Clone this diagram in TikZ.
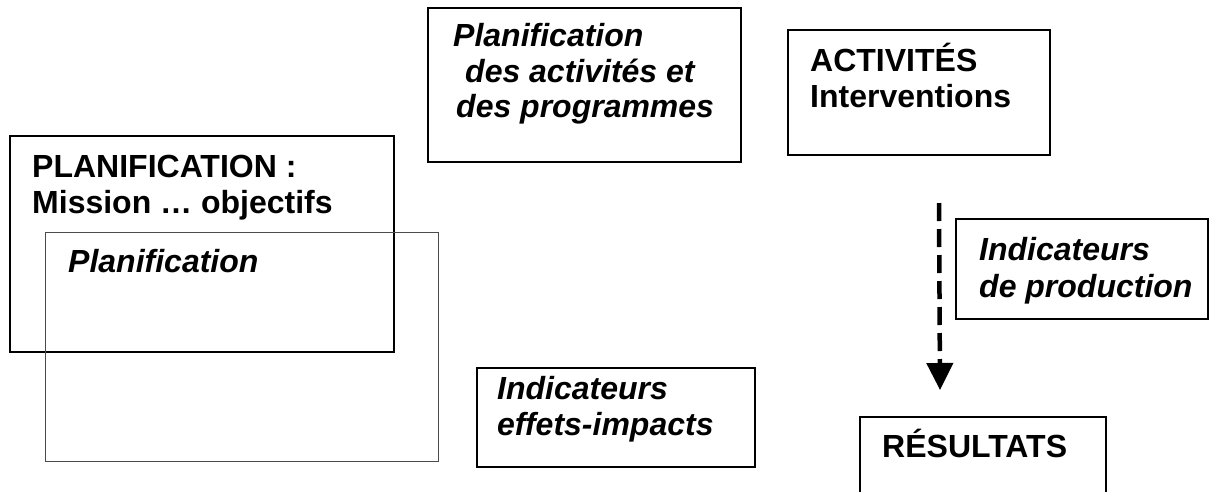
\documentclass[tikz,border=0pt]{standalone}
\usepackage{fontspec}
\setmainfont{Liberation Sans}
\usetikzlibrary{arrows.meta}
\tikzset{
  box/.style={draw, line width=1.8pt, inner sep=0pt, anchor=center},
  thinbox/.style={draw=black!70, line width=1pt, inner sep=0pt, anchor=center},
  txt/.style={anchor=base west, inner sep=0pt, font=\fontsize{32}{36}\selectfont\bfseries},
  itxt/.style={anchor=base west, inner sep=0pt, font=\fontsize{32}{36}\selectfont\bfseries\itshape},
  flow/.style={line width=4.5pt, dash pattern=on 18pt off 8pt, -{Triangle[width=26pt,length=27pt]}}
}
\begin{document}
\begin{tikzpicture}[x=1pt,y=-1pt]
\useasboundingbox (0,0) rectangle (1209,491);
\clip (0,0) rectangle (1209,491);
\fill[white] (0,0) rectangle (1209,491);
% boxes
\node[box, minimum width=384pt, minimum height=216pt] (plan) at (202,244) {};
\node[thinbox, minimum width=393pt, minimum height=229pt] (planif) at (241.5,346.5) {};
\node[box, minimum width=313pt, minimum height=154pt] (prog) at (584.5,85) {};
\node[box, minimum width=262pt, minimum height=125pt] (act) at (919,92.5) {};
\node[box, minimum width=252pt, minimum height=100pt] (prod) at (1082,269) {};
\node[box, minimum width=246pt, minimum height=120pt] (res) at (983,477) {};
\node[box, line width=1.5pt, minimum width=278pt, minimum height=99pt] (eff) at (616,417.5) {};
% texts
\node[txt] (t1a) at (32,177) {PLANIFICATION :};
\node[txt] (t1b) at (32,213) {Mission … objectifs};
\node[itxt] (t2) at (68,272) {Planification};
\node[itxt] (t3a) at (453,46) {Planification};
\node[itxt] (t3b) at (465,82) {des activités et};
\node[itxt] (t3c) at (456,117) {des programmes};
\node[txt] (t4a) at (810,71) {ACTIVITÉS};
\node[txt] (t4b) at (810,107) {Interventions};
\node[itxt] (t5a) at (979,260) {Indicateurs};
\node[itxt] (t5b) at (979,297) {de production};
\node[itxt] (t7a) at (497,399) {Indicateurs};
\node[itxt] (t7b) at (497,435) {effets-impacts};
\node[txt] (t6) at (882,457) {RÉSULTATS};
% arrow
\coordinate (a1) at (939,203);
\coordinate (a2) at (940,390);
\draw[flow] (a1) -- (a2);
\end{tikzpicture}
\end{document}
